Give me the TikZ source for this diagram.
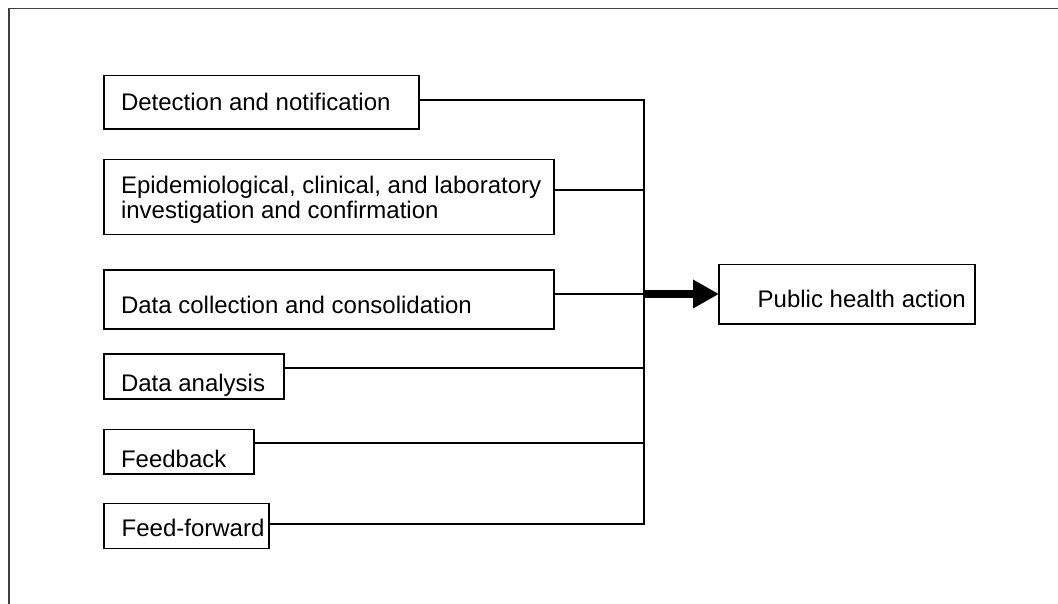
\documentclass[tikz,border=0pt]{standalone}
\usepackage{fontspec}
\setmainfont{Liberation Sans}
\usetikzlibrary{arrows.meta}
\definecolor{framegray}{HTML}{404040}
\tikzset{
  box/.style={draw=black, line width=1.3pt, inner sep=0pt, outer sep=0pt, anchor=north west},
  txt/.style={inner sep=0pt, outer sep=0pt, anchor=base west, align=left,
    font=\fontsize{24pt}{25pt}\selectfont},
  link/.style={draw=black, line width=1.9pt},
  bigarrow/.style={draw=black, line width=7pt, -{Triangle[length=26pt, width=27pt]}}
}
\begin{document}
\begin{tikzpicture}[x=1pt, y=-1pt]
\useasboundingbox (0,0) rectangle (1058,604);

% frame
\draw[framegray, line width=1.5pt] (9,604) -- (9,8.7) -- (1058,8.7);

% stage boxes
\node[box, minimum width=315pt, minimum height=53.5pt] (b1) at (104,75.5) {};
\node[box, minimum width=450pt, minimum height=75pt]   (b2) at (104,159.5) {};
\node[box, minimum width=450pt, minimum height=59pt]   (b3) at (104,270) {};
\node[box, minimum width=180pt, minimum height=45pt]   (b4) at (104,354) {};
\node[box, minimum width=150pt, minimum height=44.5pt] (b5) at (104,429.5) {};
\node[box, minimum width=165pt, minimum height=45pt]   (b6) at (104,503.5) {};
\node[box, minimum width=256pt, minimum height=59.5pt] (b7) at (719,264.5) {};

% labels (a two-line label sits on the baseline of its last line)
\node[txt] (t1) at (121,110.7) {Detection and notification};
\node[txt] (t2) at (121,218.5) {Epidemiological, clinical, and laboratory\\investigation and confirmation};
\node[txt] (t3) at (121,313.3) {Data collection and consolidation};
\node[txt] (t4) at (121,391.7) {Data analysis};
\node[txt] (t5) at (121,467.7) {Feedback};
\node[txt] (t6) at (121.7,536.7) {Feed-forward};
\node[txt] (t7) at (757.7,308) {Public health action};

% junctions on the collecting line
\coordinate (j1) at (644,100);
\coordinate (j2) at (644,190);
\coordinate (j3) at (644,294);
\coordinate (j4) at (644,368);
\coordinate (j5) at (644,443);
\coordinate (j6) at (644,524);

% connectors
\draw[link] (b1.east |- j1) -- (j1) -- (j6) -- (b6.east |- j6);
\draw[link] (b2.east |- j2) -- (j2);
\draw[link] (b3.east |- j3) -- (j3);
\draw[link] (b4.east |- j4) -- (j4);
\draw[link] (b5.east |- j5) -- (j5);

% output arrow
\draw[bigarrow] (j3) -- (b7.west |- j3);
\end{tikzpicture}
\end{document}
